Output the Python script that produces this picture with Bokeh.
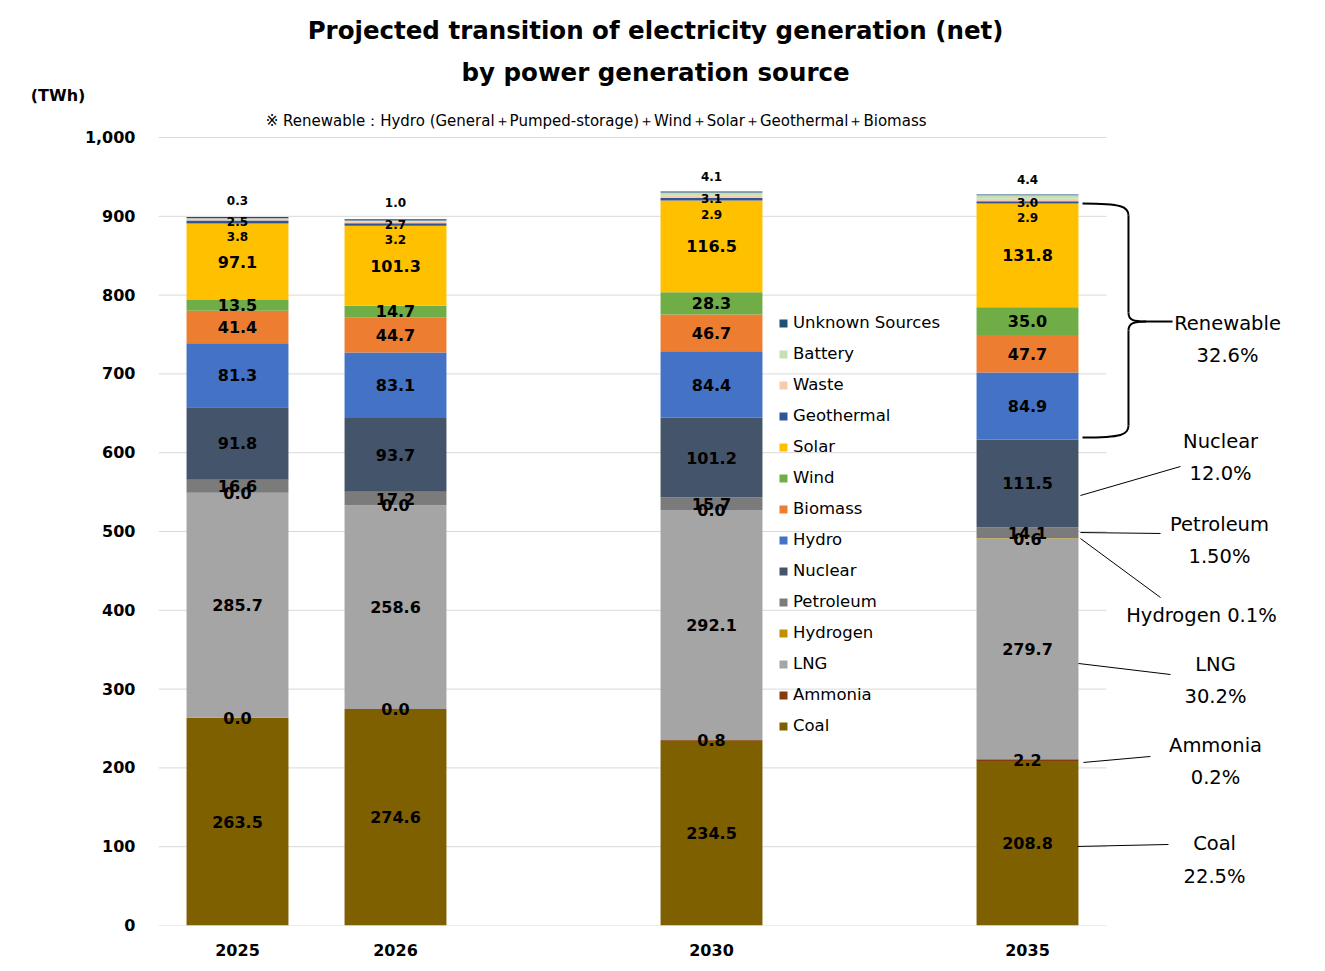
from bokeh.plotting import figure
from bokeh.models import (ColumnDataSource, Range1d, FixedTicker, NumeralTickFormatter,
                          Legend, LegendItem)
from bokeh.core.properties import value
from bokeh.embed import file_html
from bokeh.resources import INLINE

FONT = "DejaVu Sans"

years = ["2025", "2026", "2030", "2035"]
slots = [0.5, 1.5, 3.5, 5.5]   # empty slots left for 2027-29 and 2031-34

sources = ["Coal", "Ammonia", "LNG", "Hydrogen", "Petroleum", "Nuclear", "Hydro",
           "Biomass", "Wind", "Solar", "Geothermal", "Waste", "Battery", "Unknown Sources"]
coal = [263.5, 274.6, 234.5, 208.8]
ammonia = [0.0, 0.0, 0.8, 2.2]
lng = [285.7, 258.6, 292.1, 279.7]
hydrogen = [0.0, 0.0, 0.0, 0.6]
petroleum = [16.6, 17.2, 15.7, 14.1]
nuclear = [91.8, 93.7, 101.2, 111.5]
hydro = [81.3, 83.1, 84.4, 84.9]
biomass = [41.4, 44.7, 46.7, 47.7]
wind = [13.5, 14.7, 28.3, 35.0]
solar = [97.1, 101.3, 116.5, 131.8]
geothermal = [3.8, 3.2, 2.9, 2.9]
waste = [2.5, 2.7, 3.1, 3.0]
battery = [0.3, 1.0, 4.1, 4.4]
unknown = [1.5, 1.5, 1.2, 1.0]   # thin line on top, no label

values = [coal, ammonia, lng, hydrogen, petroleum, nuclear, hydro,
          biomass, wind, solar, geothermal, waste, battery, unknown]
colors = ["#7F6000", "#843C0C", "#A5A5A5", "#BF9000", "#7B7B7B", "#44546A", "#4472C4",
          "#ED7D31", "#70AD47", "#FFC000", "#2F5597", "#F8CBAD", "#C5E0B4", "#1F4E79"]

# 2035 shares shown at the right
share_names = ["Renewable", "Nuclear", "Petroleum", "Hydrogen 0.1%", "LNG", "Ammonia", "Coal"]
share_pcts = ["32.6%", "12.0%", "1.50%", "", "30.2%", "0.2%", "22.5%"]

data = {"x": slots}
for name, vals in zip(sources, values):
    data[name] = vals
src = ColumnDataSource(data)

p = figure(width=1325, height=971, title=None,
           x_range=Range1d(0, 7.386), y_range=Range1d(0, 1173.9),
           output_backend="svg", toolbar_location=None,
           min_border_left=158, min_border_right=0, min_border_top=0, min_border_bottom=46)
p.xgrid.visible = False
p.ygrid.visible = False
p.outline_line_color = None

# horizontal gridlines only across the bar area
yticks = list(range(0, 1001, 100))
p.segment(x0=[0] * len(yticks), x1=[6] * len(yticks), y0=yticks, y1=yticks,
          line_color="#d9d9d9", line_width=1)

rends = p.vbar_stack(sources, x="x", width=0.645, color=colors, source=src, line_width=0)

# value labels in the middle of each segment
small = {"Geothermal": 15, "Waste": 2, "Battery": -18}
bottoms = [0.0] * len(slots)
for name, vals in zip(sources, values):
    mids = [b + v / 2 for b, v in zip(bottoms, vals)]
    bottoms = [b + v for b, v in zip(bottoms, vals)]
    if name == "Unknown Sources":
        continue
    size = "12px" if name in small else "16px"
    p.text(x=slots, y=mids, text=["%.1f" % v for v in vals],
           text_font=value(FONT), text_font_size=value(size), text_font_style="bold",
           text_align="center", text_baseline="middle", text_color="black",
           y_offset=small.get(name, 0))

# axes; the unit sits above the top tick, pushed left with no-break spaces
unit_tick = 1053
p.yaxis.ticker = FixedTicker(ticks=yticks + [unit_tick])
p.yaxis.formatter = NumeralTickFormatter(format="0,0")
p.yaxis.major_label_overrides = {unit_tick: "(TWh)" + "\u00a0" * 9}
p.yaxis.axis_line_color = None
p.yaxis.major_tick_line_color = None
p.yaxis.minor_tick_line_color = None
p.yaxis.major_tick_out = 0
p.yaxis.major_label_standoff = 23
p.yaxis.major_label_text_font = FONT
p.yaxis.major_label_text_font_size = "16px"
p.yaxis.major_label_text_font_style = "bold"
p.yaxis.major_label_text_color = "black"

p.xaxis.ticker = FixedTicker(ticks=slots)
p.xaxis.major_label_overrides = {s: y for s, y in zip(slots, years)}
p.xaxis.axis_line_color = None
p.xaxis.major_tick_line_color = None
p.xaxis.minor_tick_line_color = None
p.xaxis.major_label_standoff = 12
p.xaxis.major_label_text_font = FONT
p.xaxis.major_label_text_font_size = "16px"
p.xaxis.major_label_text_font_style = "bold"
p.xaxis.major_label_text_color = "black"

# titles
p.text(x=[3.146, 3.146], y=[1135.8, 1082.5],
       text=["Projected transition of electricity generation (net)", "by power generation source"],
       text_font=value(FONT), text_font_size=value("24.5px"), text_font_style="bold",
       text_align="center", text_baseline="middle", text_color="black")
p.text(x=[2.785], y=[1021.6],
       text=["※  Renewable：Hydro (General＋Pumped-storage)＋Wind＋Solar＋Geothermal＋Biomass"],
       text_font=value(FONT), text_font_size=value("15px"),
       text_align="center", text_baseline="middle", text_color="black")

# brace for renewables (2035)
p.bezier(x0=[5.848, 6.139, 6.25, 6.139], y0=[916.2, 778.0, 766.5, 634.5],
         x1=[6.139, 6.25, 6.139, 5.848], y1=[901.0, 766.5, 755.0, 619.3],
         cx0=[6.10, 6.139, 6.17, 6.139], cy0=[916.2, 768.0, 766.5, 623.0],
         cx1=[6.139, 6.17, 6.139, 6.10], cy1=[912.0, 766.5, 764.0, 619.3],
         line_color="black", line_width=2)
p.segment(x0=[6.139, 6.139, 6.25], y0=[901.0, 755.0, 766.5],
          x1=[6.139, 6.139, 6.418], y1=[778.0, 634.5, 766.5],
          line_color="black", line_width=2)

# leader lines
p.segment(x0=[5.835, 5.835, 5.835, 5.823, 5.854, 5.816],
          y0=[545.7, 498.7, 491.1, 332.5, 206.9, 100.3],
          x1=[6.468, 6.342, 6.342, 6.405, 6.278, 6.392],
          y1=[582.5, 497.5, 416.2, 318.5, 214.5, 102.8],
          line_color="black", line_width=1)

ann_x = [6.766, 6.722, 6.715, 6.601, 6.690, 6.690, 6.684]
ann_y = [764.0, 614.2, 508.9, 393.4, 331.2, 228.4, 104.1]
ann_y2 = [723.4, 573.6, 468.3, 393.4, 290.6, 187.8, 62.2]
p.text(x=ann_x, y=ann_y, text=share_names,
       text_font=value(FONT), text_font_size=value("19.5px"),
       text_align="center", text_baseline="middle", text_color="black")
p.text(x=ann_x, y=ann_y2, text=share_pcts,
       text_font=value(FONT), text_font_size=value("19.5px"),
       text_align="center", text_baseline="middle", text_color="black")

legend = Legend(items=[LegendItem(label=s, renderers=[r])
                       for s, r in reversed(list(zip(sources, rends)))],
                location=(620, 190), glyph_width=10, glyph_height=10, label_standoff=5,
                spacing=12, padding=0, margin=0, border_line_color=None,
                background_fill_alpha=0, label_text_font=FONT, label_text_font_size="16.5px",
                label_text_color="black")
p.add_layout(legend)

open("out.html", "w").write(file_html(p, INLINE))
